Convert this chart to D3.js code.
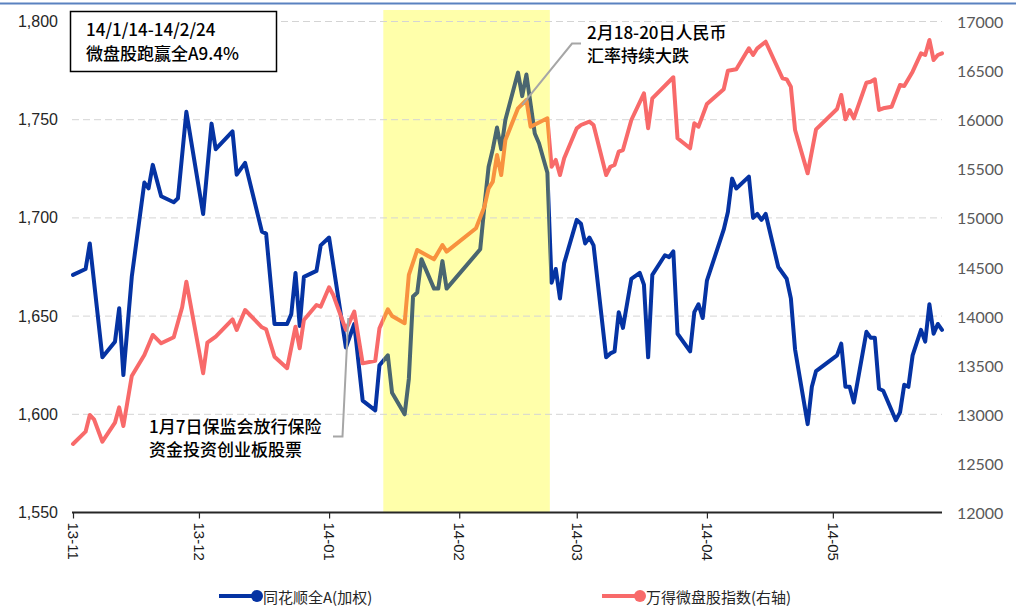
<!DOCTYPE html>
<html>
<head>
<meta charset="utf-8">
<script src="https://cdn.jsdelivr.net/npm/d3@7"></script>
<style>
  body { margin: 0; background: #fff; }
  svg { display: block; }
</style>
</head>
<body>
<svg id="chart" width="1024" height="610"></svg>
<script>
// 同花顺全A(加权) — left axis
const allADates = [
  "2013-11-01","2013-11-04","2013-11-05","2013-11-08","2013-11-11","2013-11-12","2013-11-13","2013-11-15","2013-11-18","2013-11-19",
  "2013-11-20","2013-11-22","2013-11-25","2013-11-26","2013-11-28","2013-12-02","2013-12-04","2013-12-05","2013-12-09","2013-12-10",
  "2013-12-12","2013-12-16","2013-12-17","2013-12-19","2013-12-22","2013-12-23","2013-12-24","2013-12-25","2013-12-26","2013-12-29",
  "2013-12-30","2014-01-01","2014-01-05","2014-01-07","2014-01-09","2014-01-12","2014-01-13","2014-01-15","2014-01-16","2014-01-19",
  "2014-01-20","2014-01-21","2014-01-22","2014-01-23","2014-01-26","2014-01-27","2014-01-28","2014-01-29","2014-02-06","2014-02-07",
  "2014-02-08","2014-02-09","2014-02-10","2014-02-11","2014-02-12","2014-02-15","2014-02-16","2014-02-17","2014-02-19","2014-02-20",
  "2014-02-22","2014-02-23","2014-02-24","2014-02-25","2014-02-26","2014-03-01","2014-03-02","2014-03-03","2014-03-04","2014-03-05",
  "2014-03-08","2014-03-09","2014-03-10","2014-03-11","2014-03-12","2014-03-14","2014-03-16","2014-03-17","2014-03-18","2014-03-19",
  "2014-03-22","2014-03-23","2014-03-24","2014-03-25","2014-03-28","2014-03-29","2014-03-30","2014-03-31","2014-04-01","2014-04-05",
  "2014-04-06","2014-04-07","2014-04-08","2014-04-11","2014-04-12","2014-04-13","2014-04-14","2014-04-15","2014-04-18","2014-04-20",
  "2014-04-21","2014-04-22","2014-04-25","2014-04-26","2014-04-27","2014-05-02","2014-05-03","2014-05-04","2014-05-05","2014-05-06",
  "2014-05-09","2014-05-10","2014-05-11","2014-05-12","2014-05-13","2014-05-16","2014-05-17","2014-05-18","2014-05-19","2014-05-20",
  "2014-05-22","2014-05-23","2014-05-24","2014-05-25","2014-05-26","2014-05-27"
];
const allAValues = [
  1671,1674,1687,1629,1637,1654,1620,1670,1718,1715,
  1727,1711,1708,1710,1754,1702,1748,1735,1744,1722,
  1728,1693,1692,1646,1646,1651,1672,1645,1670,1673,
  1686,1690,1634,1646,1607,1602,1625,1630,1611,1600,
  1618,1660,1662,1679,1664,1664,1678,1664,1684,1706,
  1726,1735,1746,1735,1750,1774,1762,1773,1743,1738,
  1723,1667,1674,1659,1677,1699,1697,1687,1690,1686,
  1629,1631,1632,1652,1644,1669,1672,1666,1629,1671,
  1681,1680,1683,1641,1632,1652,1656,1649,1668,1694,
  1703,1720,1715,1721,1700,1702,1699,1702,1675,1669,
  1659,1633,1595,1614,1622,1630,1636,1614,1614,1606,
  1642,1639,1639,1613,1612,1597,1601,1615,1614,1630,
  1643,1637,1656,1641,1646,1643
];

// 万得微盘股指数 — right axis
const microDates = [
  "2013-11-01","2013-11-04","2013-11-05","2013-11-06","2013-11-08","2013-11-11","2013-11-12","2013-11-13","2013-11-15","2013-11-18",
  "2013-11-20","2013-11-22","2013-11-25","2013-11-27","2013-11-28","2013-12-02","2013-12-03","2013-12-05","2013-12-09","2013-12-10",
  "2013-12-12","2013-12-16","2013-12-17","2013-12-19","2013-12-22","2013-12-24","2013-12-25","2013-12-26","2013-12-29","2013-12-30",
  "2014-01-01","2014-01-02","2014-01-05","2014-01-07","2014-01-09","2014-01-12","2014-01-13","2014-01-15","2014-01-16","2014-01-19",
  "2014-01-20","2014-01-22","2014-01-26","2014-01-28","2014-01-29","2014-02-05","2014-02-07","2014-02-08","2014-02-09","2014-02-10",
  "2014-02-11","2014-02-12","2014-02-15","2014-02-17","2014-02-18","2014-02-22","2014-02-23","2014-02-24","2014-02-25","2014-02-26",
  "2014-03-01","2014-03-02","2014-03-04","2014-03-05","2014-03-08","2014-03-09","2014-03-10","2014-03-11","2014-03-12","2014-03-14",
  "2014-03-17","2014-03-18","2014-03-19","2014-03-24","2014-03-25","2014-03-28","2014-03-29","2014-03-30","2014-04-01","2014-04-05",
  "2014-04-06","2014-04-08","2014-04-11","2014-04-12","2014-04-13","2014-04-15","2014-04-19","2014-04-20","2014-04-21","2014-04-22",
  "2014-04-25","2014-04-27","2014-05-02","2014-05-03","2014-05-04","2014-05-05","2014-05-06","2014-05-09","2014-05-10","2014-05-11",
  "2014-05-12","2014-05-13","2014-05-15","2014-05-17","2014-05-18","2014-05-20","2014-05-22","2014-05-23","2014-05-24","2014-05-25",
  "2014-05-26","2014-05-27"
];
const microValues = [
  12698,12823,12993,12949,12721,12915,13071,12881,13390,13604,
  13808,13723,13784,14090,14350,13418,13729,13790,13967,13859,
  14062,13886,13866,13587,13469,13892,13672,13960,14113,14096,
  14293,14215,13859,14045,13519,13546,13876,14069,14001,13927,
  14419,14673,14578,14724,14656,14894,15114,15301,15369,15641,
  15437,15793,16116,16201,15929,16014,15521,15590,15437,15607,
  15912,15946,15980,15946,15437,15521,15539,15674,15691,15997,
  16269,15912,16218,16432,15811,15709,15963,15929,16160,16310,
  16499,16513,16727,16659,16727,16794,16422,16411,16336,15895,
  15454,15902,16109,16252,16004,16099,16014,16377,16387,16411,
  16099,16116,16132,16353,16343,16489,16676,16659,16812,16608,
  16659,16676
];

const leftTicks = [1550, 1600, 1650, 1700, 1750, 1800];
const rightTicks = [12000, 12500, 13000, 13500, 14000, 14500, 15000, 15500, 16000, 16500, 17000];
const monthTicks = ["2013-11-01","2013-12-01","2014-01-01","2014-02-01","2014-03-01","2014-04-01","2014-05-01"];
const monthLabels = ["13-11","13-12","14-01","14-02","14-03","14-04","14-05"];
const periodStart = "2014-01-13T22:00";
const periodEnd = "2014-02-22T14:00";
const seriesNames = ["同花顺全A(加权)", "万得微盘股指数(右轴)"];

const parseDay = d3.timeParse("%Y-%m-%d");
const parseTime = d3.timeParse("%Y-%m-%dT%H:%M");

const allA = allADates.map((d, i) => ({ date: parseDay(d), value: allAValues[i] }));
const micro = microDates.map((d, i) => ({ date: parseDay(d), value: microValues[i] }));

const colors = {
  allA: "#0533A3", allAIn: "#4A6670",
  micro: "#F86A6A", microIn: "#F8923F",
  band: "#FFFFAA", grid: "#D4D4D4"
};

const svg = d3.select("#chart");
const plotLeft = 73, plotRight = 942, plotTop = 21.5, plotBottom = 512.5;

const x = d3.scaleTime()
  .domain([parseDay("2013-11-01"), parseDay("2014-05-27")])
  .range([plotLeft, plotRight]);
const yL = d3.scaleLinear().domain([1550, 1800]).range([plotBottom, plotTop]);
const yR = d3.scaleLinear().domain([12000, 17000]).range([plotBottom, plotTop]);

// top rule
svg.append("line")
  .attr("x1", 0).attr("x2", 1016).attr("y1", 3.5).attr("y2", 3.5)
  .attr("stroke", "#5A82C0").attr("stroke-width", 2);

// highlighted period
const bx0 = x(parseTime(periodStart)), bx1 = x(parseTime(periodEnd));
svg.append("rect")
  .attr("x", bx0).attr("y", 10)
  .attr("width", bx1 - bx0).attr("height", plotBottom - 10)
  .attr("fill", colors.band);

const defs = svg.append("defs");
defs.append("clipPath").attr("id", "clip-in")
  .append("rect").attr("x", bx0).attr("y", 0).attr("width", bx1 - bx0).attr("height", 610);
const outClip = defs.append("clipPath").attr("id", "clip-out");
outClip.append("rect").attr("x", 0).attr("y", 0).attr("width", bx0).attr("height", 610);
outClip.append("rect").attr("x", bx1).attr("y", 0).attr("width", 1024 - bx1).attr("height", 610);

// dashed grid
svg.append("g").selectAll("line")
  .data(leftTicks.filter(t => t > 1550))
  .join("line")
  .attr("x1", plotLeft - 1).attr("x2", plotRight)
  .attr("y1", d => yL(d)).attr("y2", d => yL(d))
  .attr("stroke", colors.grid).attr("stroke-width", 1)
  .attr("stroke-dasharray", "7,4");

// left axis labels
svg.append("g").selectAll("text")
  .data(leftTicks)
  .join("text")
  .attr("x", 58).attr("y", d => yL(d))
  .attr("text-anchor", "end").attr("dominant-baseline", "central")
  .attr("font-family", "Liberation Sans, Arial, sans-serif")
  .attr("font-size", 16).attr("fill", "#262626")
  .text(d => d3.format(",")(d));

// right axis labels
svg.append("g").selectAll("text")
  .data(rightTicks)
  .join("text")
  .attr("x", 957).attr("y", d => yR(d))
  .attr("text-anchor", "start").attr("dominant-baseline", "central")
  .attr("font-family", "Lato, sans-serif")
  .attr("font-size", 16).attr("fill", "#595959")
  .text(d => d);

// bottom axis
const xAxis = d3.axisBottom(x)
  .tickValues(monthTicks.map(parseDay))
  .tickSize(6)
  .tickFormat((d, i) => monthLabels[i]);
const gx = svg.append("g").attr("transform", `translate(0,${plotBottom})`).call(xAxis);
gx.select(".domain")
  .attr("d", `M${plotLeft - 1},0H${plotRight}`)
  .attr("stroke", "#262626").attr("stroke-width", 1.8);
gx.selectAll(".tick line").attr("stroke", "#262626").attr("stroke-width", 1.2);
gx.selectAll(".tick text")
  .attr("transform", "rotate(90)")
  .attr("x", 10).attr("y", 0).attr("dy", "0.35em")
  .attr("text-anchor", "start")
  .attr("font-family", "Liberation Sans, Arial, sans-serif")
  .attr("font-size", 15).attr("fill", "#1a1a1a");

// series lines
const lineL = d3.line().x(d => x(d.date)).y(d => yL(d.value));
const lineR = d3.line().x(d => x(d.date)).y(d => yR(d.value));

function drawSeries(data, gen, outColor, inColor) {
  svg.append("path").datum(data)
    .attr("clip-path", "url(#clip-out)")
    .attr("d", gen).attr("fill", "none")
    .attr("stroke", outColor).attr("stroke-width", 4)
    .attr("stroke-linejoin", "round").attr("stroke-linecap", "round");
  svg.append("path").datum(data)
    .attr("clip-path", "url(#clip-in)")
    .attr("d", gen).attr("fill", "none")
    .attr("stroke", inColor).attr("stroke-width", 4)
    .attr("stroke-linejoin", "round").attr("stroke-linecap", "round");
}
drawSeries(allA, lineL, colors.allA, colors.allAIn);
drawSeries(micro, lineR, colors.micro, colors.microIn);

// annotation: outperformance box
const noteFont = "Noto Sans CJK SC, sans-serif";
svg.append("rect")
  .attr("x", 70.5).attr("y", 11.5).attr("width", 206).attr("height", 60)
  .attr("fill", "#fff").attr("stroke", "#000").attr("stroke-width", 1.5);
const boxText = svg.append("text")
  .attr("font-family", noteFont).attr("font-size", 17).attr("font-weight", 500).attr("fill", "#000");
boxText.append("tspan").attr("x", 86).attr("y", 36).text("14/1/14-14/2/24");
boxText.append("tspan").attr("x", 86).attr("y", 60).text("微盘股跑赢全A9.4%");

// annotation: exchange rate drop
const fxAnchor = [x(parseDay("2014-02-16")), yR(16150)];
svg.append("path")
  .attr("d", `M${fxAnchor[0]},${fxAnchor[1]}L572,43.5H581`)
  .attr("fill", "none").attr("stroke", "#A6A6A6").attr("stroke-width", 2);
const fxText = svg.append("text")
  .attr("font-family", noteFont).attr("font-size", 17).attr("font-weight", 500).attr("fill", "#000");
fxText.append("tspan").attr("x", 587).attr("y", 39).text("2月18-20日人民币");
fxText.append("tspan").attr("x", 587).attr("y", 62).text("汇率持续大跌");

// annotation: insurance funds policy
const cirAnchor = [x(parseDay("2014-01-07")) - 6, yR(13980)];
svg.append("path")
  .attr("d", `M${cirAnchor[0]},${cirAnchor[1]}L342.5,436.5H333`)
  .attr("fill", "none").attr("stroke", "#A6A6A6").attr("stroke-width", 2);
const cirText = svg.append("text")
  .attr("font-family", noteFont).attr("font-size", 17).attr("font-weight", 500).attr("fill", "#000");
cirText.append("tspan").attr("x", 149).attr("y", 433).text("1月7日保监会放行保险");
cirText.append("tspan").attr("x", 149).attr("y", 456).text("资金投资创业板股票");

// legend
const legend = [
  { name: seriesNames[0], color: colors.allA, x0: 219 },
  { name: seriesNames[1], color: colors.micro, x0: 602 }
];
const lg = svg.append("g").selectAll("g").data(legend).join("g")
  .attr("transform", d => `translate(${d.x0},596)`);
lg.append("line").attr("x1", 0).attr("x2", 36).attr("y1", 0).attr("y2", 0)
  .attr("stroke", d => d.color).attr("stroke-width", 4);
lg.append("circle").attr("cx", 38).attr("cy", 0).attr("r", 6).attr("fill", d => d.color);
lg.append("text").attr("x", 44).attr("y", 0).attr("dominant-baseline", "central")
  .attr("font-family", noteFont).attr("font-size", 15).attr("fill", "#262626")
  .text(d => d.name);
</script>
</body>
</html>
